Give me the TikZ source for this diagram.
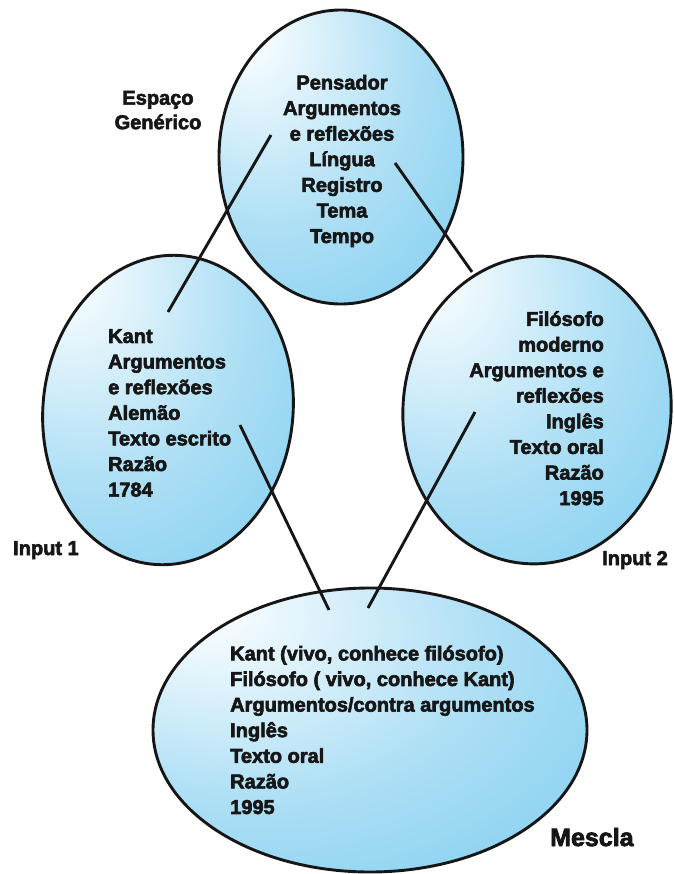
\documentclass[tikz,border=0pt]{standalone}
\usepackage{fontspec}
\setmainfont{Liberation Sans}[BoldFeatures={FakeBold=3}]
\usetikzlibrary{shapes.geometric}

\definecolor{bubin}{HTML}{F4FBFE}
\definecolor{bubmid}{HTML}{AEDFF5}
\definecolor{bubout}{HTML}{72C9EE}
\definecolor{ink}{HTML}{161616}

% soft highlight towards the upper left of each bubble
\pgfdeclareradialshading{bubble}{\pgfpoint{-20bp}{22bp}}{%
  color(0bp)=(bubin); color(4bp)=(bubin); color(28bp)=(bubmid);
  color(58bp)=(bubout); color(100bp)=(bubout)}

\tikzset{
  space/.style={ellipse, draw=ink, line width=2.9pt, shading=bubble,
    inner sep=0pt},
  body/.style={inner sep=0pt, text=ink,
    font={\fontsize{20}{25.6}\selectfont\bfseries}},
  label/.style={inner sep=0pt, text=ink,
    font={\fontsize{20}{24.5}\selectfont\bfseries}},
  link/.style={draw=ink, line width=2.9pt},
}

\begin{document}
\begin{tikzpicture}[x=1pt, y=-1pt]
\useasboundingbox (0,0) rectangle (673,874);

% the four mental spaces
\node[space, minimum width=244pt, minimum height=294pt] (generic) at (341,157) {};
\node[space, minimum width=250pt, minimum height=310pt, rotate=-6] (input1) at (168,410) {};
\node[space, minimum width=268pt, minimum height=308pt, rotate=-5] (input2) at (537,410) {};
\node[space, minimum width=434pt, minimum height=284pt] (blend) at (370,730) {};

% contents
\node[body, anchor=north, align=center] (gentext) at (342,74.7)
  {Pensador\\Argumentos\\e reflexões\\Língua\\Registro\\Tema\\Tempo};
\node[body, anchor=north west, align=left] (in1text) at (108,329)
  {Kant\\Argumentos\\e reflexões\\Alemão\\Texto escrito\\Razão\\1784};
\node[body, anchor=north east, align=right] (in2text) at (604,311)
  {Filósofo\\moderno\\Argumentos e\\reflexões\\Inglês\\Texto oral\\Razão\\1995};
\node[body, anchor=north west, align=left] (blendtext) at (230,645.5)
  {Kant (vivo, conhece filósofo)\\Filósofo ( vivo, conhece Kant)\\Argumentos/contra argumentos\\Inglês\\Texto oral\\Razão\\1995};

% space names
\node[label, anchor=north, align=center] (genlabel) at (158,90.7) {Espaço\\Genérico};
\node[label, anchor=base west] (in1label) at (13,555) {Input 1};
\node[label, anchor=base west] (in2label) at (602,565) {Input 2};
\node[label, anchor=base west, font={\fontsize{25}{30}\selectfont\bfseries}] (blendlabel) at (550,846) {Mescla};

% cross-space mappings
\coordinate (g1) at (271,135);
\coordinate (a1) at (168,312);
\coordinate (g2) at (395,163);
\coordinate (b2) at (472,272);
\coordinate (a3) at (240,425);
\coordinate (m3) at (329,610);
\coordinate (b4) at (475,412);
\coordinate (m4) at (368,608);
\draw[link] (g1) -- (a1);
\draw[link] (g2) -- (b2);
\draw[link] (a3) -- (m3);
\draw[link] (b4) -- (m4);
\end{tikzpicture}
\end{document}
